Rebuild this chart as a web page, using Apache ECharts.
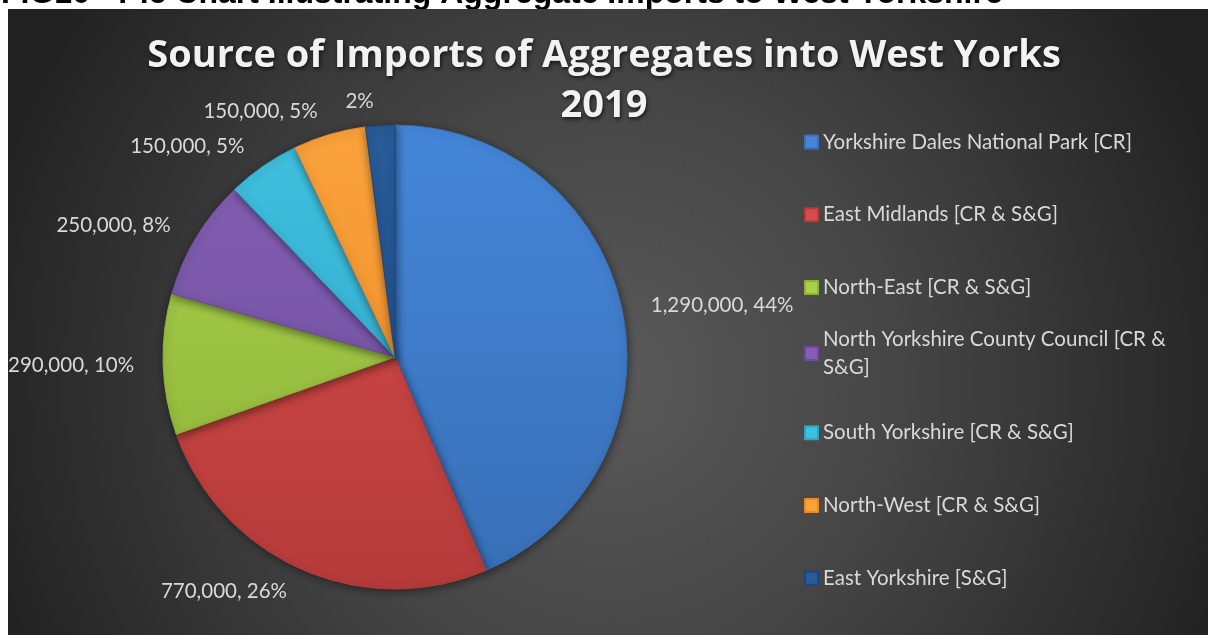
<!DOCTYPE html>
<html>
<head>
<meta charset="utf-8">
<title>Source of Imports of Aggregates into West Yorks 2019</title>
<script src="https://cdn.jsdelivr.net/npm/echarts@6/dist/echarts.min.js"></script>
<style>
  html, body { margin: 0; padding: 0; background: #ffffff; }
  #chart { width: 1208px; height: 635px; }
</style>
</head>
<body>
<div id="chart"></div>
<script>
// Aggregate imports into West Yorkshire by source area, 2019 (tonnes)
const categories = [
  'Yorkshire Dales National Park [CR]',
  'East Midlands [CR & S&G]',
  'North-East [CR & S&G]',
  'North Yorkshire County Council [CR & S&G]',
  'South Yorkshire [CR & S&G]',
  'North-West [CR & S&G]',
  'East Yorkshire [S&G]'
];
const tonnes = [1290000, 770000, 290000, 250000, 150000, 150000, 60000];
// whether the data label prints the tonnage as well as the share
const labelShowsTonnes = [true, true, true, true, true, true, false];

const chartTitle = 'Source of Imports of Aggregates into West Yorks\n2019';
const pageHeading = 'FIG10 - Pie Chart Illustrating Aggregate Imports to West Yorkshire';

// slice shades: [lighter top, darker bottom]
const palette = [
  ['#4586d9', '#386fb6'],
  ['#d64c4a', '#b53b3a'],
  ['#a9d04c', '#8db238'],
  ['#8460b4', '#6c4b9a'],
  ['#40c0e0', '#2ca3c4'],
  ['#faa23c', '#eb8924'],
  ['#285c99', '#1c477d']
];

const cx = 395, cy = 357, radius = 232;

function shade(pair) {
  return {
    type: 'linear', global: true,
    x: 0, y: cy - radius, x2: 0, y2: cy + radius,
    colorStops: [{ offset: 0, color: pair[0] }, { offset: 1, color: pair[1] }]
  };
}

const pieData = categories.map((name, i) => ({
  name: name,
  value: tonnes[i],
  itemStyle: { color: shade(palette[i]), borderColor: palette[i][1] }
}));

const labelFont = 'Lato, "Open Sans", sans-serif';
const legendFirstY = 142, legendStep = 72.7, legendLineHeight = 28;

const legends = categories.map((name, i) => {
  const wraps = name.indexOf('North Yorkshire') === 0;
  return {
    data: [name],
    orient: 'vertical',
    left: 804,
    top: legendFirstY + i * legendStep - (wraps ? 6.5 + legendLineHeight * 1.5 : 14),
    padding: 0,
    icon: 'rect',
    itemWidth: 13,
    itemHeight: 13,
    itemGap: 0,
    selectedMode: false,
    formatter: wraps ? (n) => n.replace('[CR & S&G]', '[CR &\nS&G]') : '{name}',
    textStyle: {
      color: '#d9d9d9',
      fontFamily: labelFont,
      fontSize: 20.5,
      lineHeight: legendLineHeight,
      padding: wraps ? [legendLineHeight, 0, 0, 0] : 0
    }
  };
});

const chart = echarts.init(document.getElementById('chart'), null, { renderer: 'canvas' });

chart.setOption({
  backgroundColor: '#ffffff',
  animation: false,
  graphic: [
    {
      type: 'text',
      z: 0,
      left: 1,
      top: -22,
      style: {
        text: pageHeading,
        fill: '#000000',
        font: 'bold 32px "Liberation Sans", Arial, sans-serif'
      }
    },
    {
      type: 'rect',
      z: 1,
      shape: { x: 8, y: 9, width: 1200, height: 626 },
      style: {
        fill: {
          type: 'radial', global: true,
          x: 610, y: 380, r: 650,
          colorStops: [
            { offset: 0, color: '#5a5a5a' },
            { offset: 0.45, color: '#454545' },
            { offset: 1, color: '#222222' }
          ]
        }
      }
    }
  ],
  title: {
    text: chartTitle,
    left: 'center',
    top: 31,
    padding: 0,
    textStyle: {
      color: '#f2f2f2',
      fontFamily: '"Open Sans", sans-serif',
      fontWeight: 'bold',
      fontSize: 38,
      lineHeight: 50,
      textShadowColor: 'rgba(0,0,0,0.7)',
      textShadowBlur: 4,
      textShadowOffsetX: 1,
      textShadowOffsetY: 2
    }
  },
  legend: legends,
  series: [{
    type: 'pie',
    z: 3,
    center: [cx, cy],
    radius: radius,
    startAngle: 90,
    clockwise: true,
    avoidLabelOverlap: false,
    data: pieData,
    itemStyle: {
      borderWidth: 1,
      shadowColor: 'rgba(0,0,0,0.45)',
      shadowBlur: 8,
      shadowOffsetX: 1,
      shadowOffsetY: 2
    },
    label: {
      show: true,
      position: 'outside',
      color: '#d9d9d9',
      fontFamily: labelFont,
      fontSize: 20.5,
      formatter: (p) => {
        const pct = Math.round(p.percent) + '%';
        return labelShowsTonnes[p.dataIndex] ? p.value.toLocaleString('en-US') + ', ' + pct : pct;
      }
    },
    labelLine: { show: false, length: 24, length2: 0 },
    emphasis: { disabled: true }
  }]
});
</script>
</body>
</html>
